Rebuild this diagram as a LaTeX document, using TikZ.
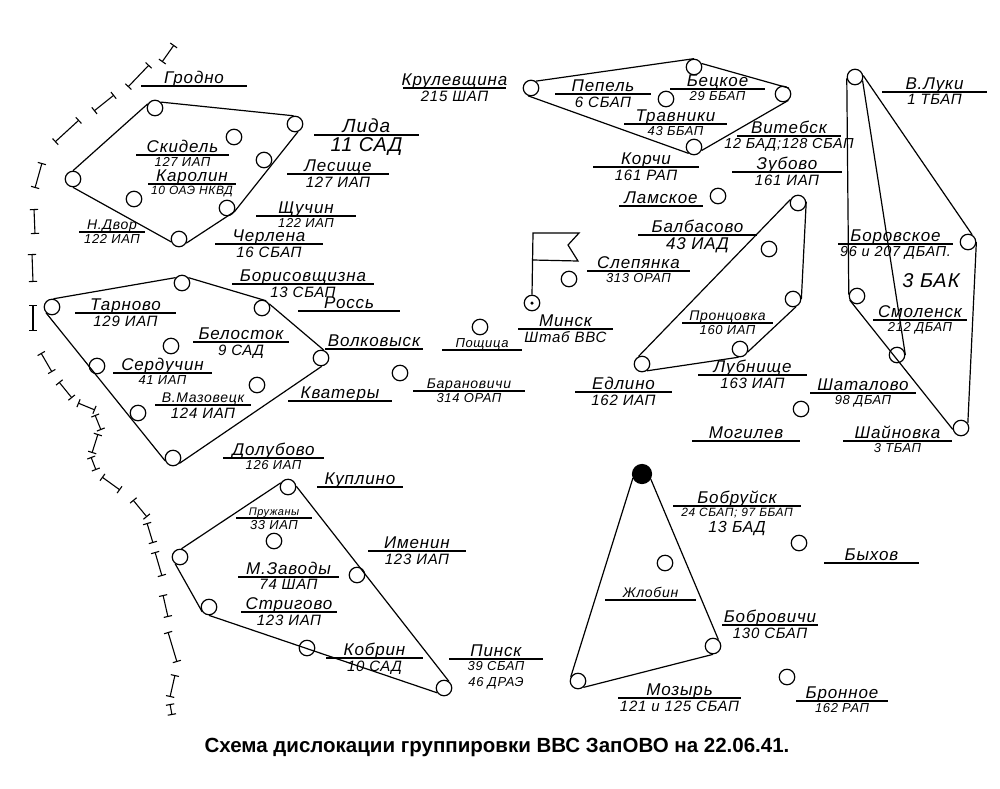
\documentclass[tikz,border=0pt]{standalone}
\usepackage{fontspec}
\setmainfont[LetterSpace=5]{Liberation Sans}
\newfontfamily\titlefont{Liberation Sans}
\usetikzlibrary{positioning}
\tikzset{field-circle/.style =
   {circle,
    draw,
    line width=1.2pt,
    inner sep=0pt,
    minimum size=15.5pt}}
\tikzset{field-name/.style =
   {font=\fontsize{17}{18}\selectfont\itshape,
    inner sep=1.5pt,
    text depth=0pt,
    align=center}}
\tikzset{field-unit/.style =
   {font=\fontsize{15}{16}\selectfont\itshape,
    inner sep=2pt,
    align=center}}
\tikzset{name-line/.style = {draw, line width=1.1pt}}
\tikzset{group-line/.style = {draw, line width=1.2pt}}
\tikzset{border-mark/.style = {draw, line width=1.1pt, |-|}}

\begin{document}
\begin{tikzpicture}[x=1pt, y=-1pt]

    \useasboundingbox (0,0) rectangle (1000,788);

    % airfields
    \foreach \nm/\x/\y in {g1/155/108, g2/295/124, g3/234/137, g4/264/160,
                           g5/227/208, g6/179/239, g7/73/179, g8/134/199,
                           t1/52/307, t2/182/283, t3/262/308, t4/321/358,
                           t5/173/458, t6/138/413, t7/97/366, t8/171/346,
                           t9/257/385, k1/288/487, k2/180/557, k3/209/607,
                           k4/307/648, k5/444/688, k6/357/575, k7/274/541,
                           p1/531/88, p2/694/67, p3/783/94, p4/694/147,
                           p5/666/99, b1/642/364, b2/740/349, b3/793/299,
                           b4/798/203, b5/769/249, v1/855/77, v2/968/242,
                           v3/961/428, v4/897/355, v5/857/296, z2/713/646,
                           z3/578/681, z4/665/563, z5/799/543, z6/787/677,
                           lamskoe/718/196, slepyanka/569/279, poshchitsa/480/327,
                           baranovichi/400/373, mogilev/801/409, minsk/532/303}
        \node [field-circle] (\nm) at (\x,\y) {};

    \node [field-circle, fill=black, minimum size=19pt] (z1) at (642,474) {};
    \node [circle, fill=black, inner sep=0pt, minimum size=3.5pt] (minsk-dot) at (minsk) {};

    % groups
    \draw [group-line] (g1.45) -- (g2.100) (g2.-70) -- (g5.-25) -- (g6.-30)
                       (g6.200) -- (g7.-90) (g7.90) -- (g1.150);
    \draw [group-line] (t1.80) -- (t2.140) (t2.40) -- (t3.60) (t3.30) -- (t4.70)
                       (t4.-85) -- (t5.-40) (t5.200) -- (t1.225);
    \draw [group-line] (k1.150) -- (k2.80) (k2.235) -- (k3.215) (k3.-90) -- (k5.215)
                       (k5.55) -- (k1.5);
    \draw [group-line] (p1.55) -- (p2.90) (p2.25) -- (p3.45) (p3.-50) -- (p4.-25)
                       (p4.230) -- (p1.250);
    \draw [group-line] (b1.115) -- (b4.155) (b4.10) -- (b3.0) (b3.-70) -- (b2.-20)
                       (b2.-100) -- (b1.-55);
    \draw [group-line] (v1.10) -- (v2.60) (v2.0) -- (v3.35) (v3.190) -- (v5.210)
                       (v5.170) -- (v1.190) (v1.-25) -- (v4.0);
    \draw [group-line] (z1.-30) -- (z2.50) (z2.-90) -- (z3.-50) (z3.150) -- (z1.205);

    % flag
    \coordinate (flag-top) at (533,233);
    \draw [group-line] (minsk.north) -- (flag-top) -- (579,233) -- (568,245) -- (578,261) -- (533,260);

    % names with a unit
    \foreach \nm/\xa/\xb/\y/\name/\unit in {
        lida/314/419/135/{\fontsize{19}{20}\selectfont Лида}/{\fontsize{20}{21}\selectfont 11 САД},
        lesishche/287/389/174/Лесище/127 ИАП,
        shchuchin/256/356/216/Щучин/{\fontsize{13}{14}\selectfont 122 ИАП},
        cherlena/215/323/244/Черлена/16 СБАП,
        skidel/136/229/155/Скидель/{\fontsize{13}{14}\selectfont 127 ИАП},
        karolin/148/236/184/Каролин/{\fontsize{12}{13}\selectfont 10 ОАЭ НКВД},
        ndvor/79/145/232/{\fontsize{14}{15}\selectfont Н.Двор}/{\fontsize{13}{14}\selectfont 122 ИАП},
        krulevshchina/403/506/88/Крулевщина/215 ШАП,
        pepel/555/651/94/Пепель/6 СБАП,
        beshchkoe/670/765/89/Бецкое/{\fontsize{13}{14}\selectfont 29 ББАП},
        travniki/624/727/124/Травники/{\fontsize{13}{14}\selectfont 43 ББАП},
        korchi/593/699/167/Корчи/161 РАП,
        vitebsk/737/841/136/Витебск/{\fontsize{14.5}{15}\selectfont 12 БАД;128 СБАП},
        zubovo/732/842/172/Зубово/161 ИАП,
        baldasovo/638/757/235/Балбасово/{\fontsize{17}{18}\selectfont 43 ИАД},
        borovskoe/838/953/244/Боровское/{\fontsize{14.5}{15}\selectfont 96 и 207 ДБАП.},
        smolensk/873/967/320/Смоленск/{\fontsize{13}{14}\selectfont 212 ДБАП},
        vluki/882/987/92/В.Луки/1 ТБАП,
        shatalovo/810/916/393/Шаталово/{\fontsize{13}{14}\selectfont 98 ДБАП},
        shainovka/843/952/441/Шайновка/{\fontsize{13}{14}\selectfont 3 ТБАП},
        lubnishche/698/807/375/Лубнище/163 ИАП,
        prontsevka/682/773/323/{\fontsize{14}{15}\selectfont Пронцовка}/{\fontsize{13}{14}\selectfont 160 ИАП},
        edlino/575/672/392/Едлино/162 ИАП,
        minsk-hq/518/613/329/Минск/Штаб ВВС,
        slepyanka-l/587/690/271/Слепянка/{\fontsize{13}{14}\selectfont 313 ОРАП},
        baranovichi-l/413/525/391/{\fontsize{14}{15}\selectfont Барановичи}/{\fontsize{13}{14}\selectfont 314 ОРАП},
        borisovshchizna/232/374/284/Борисовщизна/13 СБАП,
        tarnovo/75/176/313/Тарново/129 ИАП,
        belostok/193/289/342/Белосток/9 САД,
        serbuchin/113/212/373/Сердучин/{\fontsize{13}{14}\selectfont 41 ИАП},
        mazovetsk/155/251/405/{\fontsize{14}{15}\selectfont В.Мазовецк}/124 ИАП,
        dolubovo/223/324/458/Долубово/{\fontsize{13}{14}\selectfont 126 ИАП},
        pruzhany/236/312/518/{\fontsize{11}{12}\selectfont Пружаны}/{\fontsize{13}{14}\selectfont 33 ИАП},
        imenin/368/466/551/Именин/123 ИАП,
        mzavody/238/339/577/М.Заводы/74 ШАП,
        strigovo/241/337/612/Стригово/123 ИАП,
        kobrin/326/423/658/Кобрин/10 САД,
        pinsk/449/543/659/Пинск/{\fontsize{13}{16}\selectfont 39 СБАП\\\fontsize{13}{16}\selectfont 46 ДРАЭ},
        bobruisk/673/801/506/Бобруйск/{\fontsize{12}{18}\selectfont 24 СБАП; 97 ББАП\\\fontsize{16}{18}\selectfont 13 БАД},
        bobrovichi/722/818/625/Бобровичи/130 СБАП,
        mozyr/618/741/698/Мозырь/121 и 125 СБАП,
        bronnoe/796/888/701/Бронное/{\fontsize{13}{14}\selectfont 162 РАП}} {
        \coordinate (\nm-a) at (\xa,\y);
        \coordinate (\nm-b) at (\xb,\y);
        \draw [name-line] (\nm-a) -- (\nm-b)
            node [field-name, midway, above] (\nm-name) {\name}
            node [field-unit, midway, below] (\nm-unit) {\unit};
    }

    % names alone
    \foreach \nm/\xa/\xb/\y/\name in {
        grodno/141/247/86/Гродно,
        lamskoe-l/619/703/206/Ламское,
        mogilev-l/692/800/441/Могилев,
        poshchitsa-l/442/522/350/{\fontsize{13}{14}\selectfont Пощица},
        ross/298/400/311/Россь,
        volkovysk/325/423/349/Волковыск,
        kvatery/288/392/401/Кватеры,
        kuplino/317/403/487/Куплино,
        bykhov/824/919/563/Быхов,
        zhlobin/605/696/600/{\fontsize{14}{15}\selectfont Жлобин}} {
        \coordinate (\nm-a) at (\xa,\y);
        \coordinate (\nm-b) at (\xb,\y);
        \draw [name-line] (\nm-a) -- (\nm-b)
            node [field-name, midway, above] (\nm-name) {\name};
    }

    \node [font=\fontsize{20}{21}\selectfont\itshape] (bak) at (931,281) {3 БАК};

    % state border
    \foreach \xa/\ya/\xb/\yb in {174/45/162/62, 149/65/128/87, 114/95/94/111,
                                 79/120/55/142, 42/163/35/188, 34/209/35/234,
                                 32/254/33/282, 33/305/33/331, 41/353/52/372,
                                 59/382/72/398, 78/403/95/410, 95/415/101/430,
                                 98/434/92/453, 91/457/96/470, 102/477/120/490,
                                 133/500/147/517, 147/523/153/543, 155/552/162/576,
                                 163/595/168/617, 168/632/177/662, 175/675/170/697,
                                 170/704/172/715}
        \draw [border-mark] (\xa,\ya) -- (\xb,\yb);

    \node [font=\titlefont\fontsize{20.5}{22}\selectfont\bfseries] (title) at (497,747)
        {Схема дислокации группировки ВВС ЗапОВО на 22.06.41.};

\end{tikzpicture}
\end{document}
